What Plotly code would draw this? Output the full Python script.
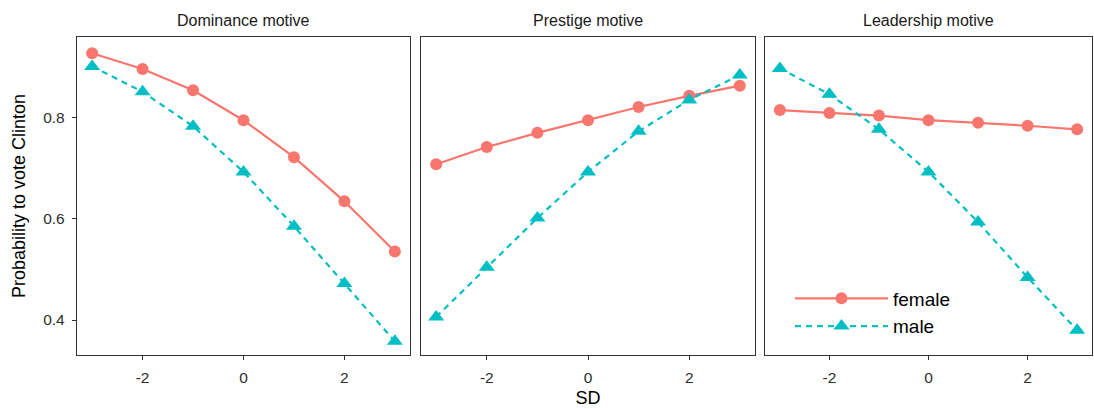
import plotly.graph_objects as go

sd = [-3, -2, -1, 0, 1, 2, 3]
panels = ["Dominance motive", "Prestige motive", "Leadership motive"]

female_dominance = [0.926, 0.895, 0.853, 0.794, 0.721, 0.634, 0.535]
male_dominance = [0.900, 0.850, 0.782, 0.692, 0.585, 0.472, 0.358]
female_prestige = [0.707, 0.741, 0.769, 0.794, 0.820, 0.842, 0.862]
male_prestige = [0.406, 0.504, 0.601, 0.692, 0.772, 0.834, 0.883]
female_leadership = [0.814, 0.808, 0.803, 0.794, 0.789, 0.783, 0.776]
male_leadership = [0.896, 0.845, 0.776, 0.692, 0.593, 0.484, 0.380]

female_series = [female_dominance, female_prestige, female_leadership]
male_series = [male_dominance, male_prestige, male_leadership]

RED = "#F8766D"
TEAL = "#00BFC4"
FONT = "Liberation Sans, Arial, sans-serif"
TICKCOL = "#2E2E2E"

W, H = 1094, 409
ml, mr, mt, mb = 77, 2, 37, 54
pw = W - ml - mr
ph = H - mt - mb
panel_px = [(77, 410), (421, 755), (765, 1092)]
domains = [((a - ml) / pw, (b - ml) / pw) for a, b in panel_px]

fig = go.Figure()
for i in range(3):
    xa = "x" if i == 0 else f"x{i+1}"
    ya = "y" if i == 0 else f"y{i+1}"
    fig.add_trace(go.Scatter(
        x=sd, y=female_series[i], xaxis=xa, yaxis=ya, mode="lines+markers",
        name="female", legendgroup="female", showlegend=(i == 2),
        line=dict(color=RED, width=2.2, dash="solid"),
        marker=dict(symbol="circle", size=12, color=RED),
    ))
    fig.add_trace(go.Scatter(
        x=sd, y=male_series[i], xaxis=xa, yaxis=ya, mode="lines+markers",
        name="male", legendgroup="male", showlegend=(i == 2),
        line=dict(color=TEAL, width=2.2, dash="6px,5px"),
        marker=dict(symbol="triangle-up", size=14, color=TEAL),
    ))

axis_common = dict(
    range=[-3.3, 3.3], tickvals=[-2, 0, 2], ticktext=["-2", "0", "2"],
    showgrid=False, zeroline=False, showline=True, mirror=True,
    linecolor="#333333", linewidth=1.4, ticks="outside", ticklen=4,
    tickcolor="#333333", tickwidth=1, ticklabelstandoff=4,
    tickfont=dict(family=FONT, size=15.5, color=TICKCOL),
)
yaxis_common = dict(
    range=[0.331, 0.958], tickvals=[0.4, 0.6, 0.8], ticktext=["0.4", "0.6", "0.8"],
    showgrid=False, zeroline=False, showline=True, mirror=True,
    linecolor="#333333", linewidth=1.4, ticks="outside", ticklen=4,
    tickcolor="#333333", tickwidth=1, ticklabelstandoff=4,
    tickfont=dict(family=FONT, size=15.5, color=TICKCOL),
)

leg_left_px = 790
leg_center_px = 312.5
layout = dict(
    width=W, height=H, margin=dict(l=ml, r=mr, t=mt, b=mb),
    plot_bgcolor="white", paper_bgcolor="white",
    font=dict(family=FONT, color="#1A1A1A"),
    legend=dict(x=(leg_left_px - ml) / pw, y=(H - mb - leg_center_px) / ph,
                xanchor="left", yanchor="middle",
                bgcolor="rgba(0,0,0,0)", font=dict(family=FONT, size=19, color="#000000"),
                itemwidth=93, tracegroupgap=0),
)
for i in range(3):
    sfx = "" if i == 0 else str(i + 1)
    xa = dict(axis_common, domain=list(domains[i]), anchor="y" + sfx)
    ya = dict(yaxis_common, domain=[0, 1], anchor="x" + sfx)
    if i > 0:
        ya["showticklabels"] = False
        ya["ticks"] = ""
        ya["matches"] = "y"
    if i == 1:
        xa["title"] = dict(text="SD", font=dict(family=FONT, size=18, color="#000000"), standoff=6)
    if i == 0:
        ya["title"] = dict(text="Probability to vote Clinton",
                           font=dict(family=FONT, size=18, color="#000000"), standoff=12)
    layout["xaxis" + sfx] = xa
    layout["yaxis" + sfx] = ya

anns = []
for i, name in enumerate(panels):
    anns.append(dict(
        text=name, x=(domains[i][0] + domains[i][1]) / 2, y=1, xref="paper", yref="paper",
        xanchor="center", yanchor="bottom", yshift=6, showarrow=False,
        font=dict(family=FONT, size=16, color="#1A1A1A"),
    ))
layout["annotations"] = anns

fig.update_layout(**layout)
fig.write_html("out.html")
